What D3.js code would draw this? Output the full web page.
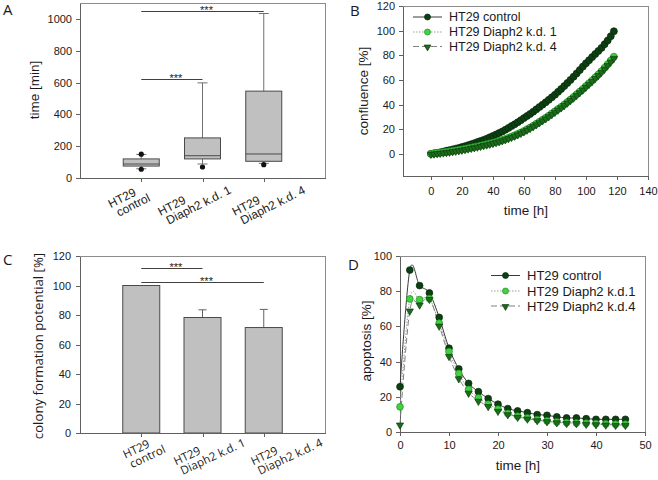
<!DOCTYPE html>
<html><head><meta charset="utf-8">
<script src="https://cdn.jsdelivr.net/npm/d3@7"></script>
<style>body{margin:0;background:#fff} svg{display:block}</style>
</head><body>
<svg id="c" width="658" height="480"></svg>
<script>
// ---------------- DATA ----------------
const catLabels = [["HT29","control"],["HT29","Diaph2 k.d. 1"],["HT29","Diaph2 k.d. 4"]];

// Panel A: box plots (time [min])
const boxQ1 = [75, 120, 105];
const boxMedian = [88, 140, 151];
const boxQ3 = [120, 252, 546];
const whiskerLow = [58, 88, 92];
const whiskerHigh = [148, 598, 1034];
const boxOutliers = [[150, 55], [69], [84]];
const ticksA = [0, 200, 400, 600, 800, 1000];
const sigA = [{from:0, to:2, y:1047}, {from:0, to:1, y:620}];

// Panel B: confluence [%] over time [h]
const growthTime = [0,2,4,6,8,10,12,14,16,18,20,22,24,26,28,30,32,34,36,38,40,42,44,46,48,50,52,54,56,58,
  60,62,64,66,68,70,72,74,76,78,80,82,84,86,88,90,92,94,96,98,100,102,104,106,108,110,112,114,116,118];
const growthControl = [0,0.4,0.8,1.2,1.8,2.5,3.0,3.6,4.2,4.8,5.5,6.2,7.0,7.8,8.6,9.5,10.4,11.3,12.3,13.4,
  14.5,15.7,16.9,18.1,19.5,21.0,22.5,24.0,25.6,27.3,29.0,30.7,32.4,34.2,36.1,38.0,39.9,41.8,43.8,45.9,
  48.0,50.3,52.6,55.0,57.5,60.0,62.6,65.3,68.0,70.8,73.5,76.0,78.5,81.0,83.5,86.0,89.0,92.0,95.5,99.5];
const growthKd1 = [0,0.3,0.6,0.9,1.2,1.5,1.9,2.3,2.7,3.1,3.5,4.0,4.5,5.0,5.5,6.0,6.6,7.2,7.8,8.4,
  9.0,9.7,10.4,11.2,12.0,13.0,14.0,15.0,16.1,17.3,18.5,19.9,21.3,22.8,24.4,26.0,27.6,29.2,30.9,32.7,
  34.5,36.3,38.1,40.0,42.0,44.0,46.1,48.3,50.5,52.7,55.0,57.3,59.6,62.0,64.4,67.0,69.8,72.7,75.7,78.8];
const growthKd4 = [0,0.2,0.5,0.8,1.1,1.4,1.7,2.1,2.5,2.9,3.3,3.8,4.3,4.8,5.3,5.8,6.4,7.0,7.6,8.2,
  8.8,9.5,10.2,11.0,11.8,12.7,13.7,14.7,15.8,17.0,18.2,19.6,21.0,22.5,24.0,25.6,27.2,28.8,30.5,32.3,
  34.1,35.9,37.7,39.6,41.6,43.6,45.7,47.8,50.0,52.2,54.5,56.8,59.1,61.5,63.9,66.5,69.2,72.0,74.9,77.8];
const ticksBx = [0, 20, 40, 60, 80, 100, 120, 140];
const ticksBy = [0, 20, 40, 60, 80, 100, 120];
const namesB = ["HT29 control", "HT29 Diaph2 k.d. 1", "HT29 Diaph2 k.d. 4"];

// Panel C: colony formation potential [%]
const colonyValues = [100, 78.3, 71.5];
const colonyErrors = [0, 5.2, 12.3];
const ticksC = [0, 20, 40, 60, 80, 100, 120];
const sigC = [{from:0, to:1, y:112}, {from:0, to:2, y:102.2}];

// Panel D: apoptosis [%] over time [h]
const apoTime = [0,2,4,6,8,10,12,14,16,18,20,22,24,26,28,30,32,34,36,38,40,42,44,46];
const apoControl = [25.7,92,83.2,79,65.1,47.6,35.8,27.6,22.9,19,15.8,13.3,12,11,9.9,9.5,8.6,8,8,7.6,7.2,7.2,7.2,7.2];
const apoKd1 = [14.3,75.6,75.2,75.8,61.9,45.7,33.3,24.2,19.4,15.8,13,10.5,9,8,7,6.3,5.7,5.3,5.1,5,4.8,4.6,4.4,4.4];
const apoKd4 = [4.2,69,72.4,75.6,60.4,43.2,30.5,22.3,17.7,14.7,12,10.1,8.6,7.6,6.7,6.1,5.5,5.1,5,4.6,4.4,4.2,4,4];
const ticksDx = [0, 10, 20, 30, 40, 50];
const ticksDy = [0, 20, 40, 60, 80, 100];
const namesD = ["HT29 control", "HT29 Diaph2 k.d.1", "HT29 Diaph2 k.d.4"];

// ---------------- STYLE ----------------
const FONT = "'Liberation Sans', Arial, sans-serif";
const FONT2 = "'Open Sans', 'Liberation Sans', sans-serif";
const TXT = "#1a1a1a";
const FRAME = "#8c8c8c";
const AXIS = "#606060";
const fmt = d3.format("d");
const seriesStyle = [
  {fill:"#0e3f12", stroke:"#062a08", line:"#3a3a3a", dash:null, shape:"circle"},
  {fill:"#3fd43f", stroke:"#1e8c1e", line:"#9a9a9a", dash:"1.5,1.5", shape:"circle"},
  {fill:"#1d6b1d", stroke:"#0e3e0e", line:"#808080", dash:"6,3", shape:"tri"}
];

const svg = d3.select("#c");

function frame(x0, y0, x1, y1) {
  svg.append("rect").attr("x", x0).attr("y", y0).attr("width", x1 - x0).attr("height", y1 - y0)
    .attr("fill", "none").attr("stroke", FRAME).attr("stroke-width", 1).attr("shape-rendering", "crispEdges");
}
function styleAxis(g, size) {
  g.attr("font-family", FONT);
  g.select(".domain").attr("stroke", AXIS);
  g.selectAll(".tick line").attr("stroke", AXIS);
  g.selectAll(".tick text").attr("font-family", FONT).attr("font-size", size || 11).attr("fill", TXT);
  g.attr("shape-rendering", "crispEdges");
}
function yTitle(x, y, text, font, size) {
  svg.append("text").attr("transform", `translate(${x},${y}) rotate(-90)`).attr("text-anchor", "middle")
    .attr("font-family", font).attr("font-size", size).attr("fill", TXT).text(text);
}
function xTitle(x, y, text) {
  svg.append("text").attr("x", x).attr("y", y).attr("text-anchor", "middle")
    .attr("font-family", FONT).attr("font-size", 13.5).attr("fill", TXT).text(text);
}
function panelLetter(x, y, t) {
  svg.append("text").attr("x", x).attr("y", y).attr("font-family", FONT2).attr("font-size", 15)
    .attr("fill", TXT).text(t);
}
function catLabel(cx, cy, angle, lines, font, size, lh, dx2) {
  const grp = svg.append("g").attr("transform", `translate(${cx},${cy}) rotate(${angle})`);
  const t = grp.append("text").attr("font-family", font).attr("font-size", size).attr("fill", TXT);
  const t1 = t.append("tspan").attr("x", 0).attr("y", -2).text(lines[0]);
  const t2 = t.append("tspan").attr("x", dx2).attr("y", lh - 2).text(lines[1]);
  const w = Math.max(t1.node().getComputedTextLength(), t2.node().getComputedTextLength() + dx2);
  t.attr("transform", `translate(${-w / 2},0)`);
}
function sigBar(xs, ys, s) {
  const x1 = xs(s.from + 1), x2 = xs(s.to + 1), yy = Math.round(ys(s.y)) + 0.5;
  svg.append("line").attr("x1", x1).attr("x2", x2).attr("y1", yy).attr("y2", yy)
    .attr("stroke", "#404040").attr("stroke-width", 1);
  svg.append("text").attr("x", (x1 + x2) / 2 + 4).attr("y", yy + 2).attr("text-anchor", "middle")
    .attr("font-family", FONT).attr("font-size", 11).attr("fill", TXT).text("***");
}
const triPath = d3.symbol().type(d3.symbolTriangle);
function marker(g, st, x, y, size) {
  if (st.shape === "circle") {
    g.append("circle").attr("cx", x).attr("cy", y).attr("r", size)
      .attr("fill", st.fill).attr("stroke", st.stroke).attr("stroke-width", 0.7);
  } else {
    g.append("path").attr("d", triPath.size(size * size * 2.2)())
      .attr("transform", `translate(${x},${y + 0.5}) rotate(180)`)
      .attr("fill", st.fill).attr("stroke", st.stroke).attr("stroke-width", 0.7);
  }
}
function legend(x0, rows, names, fontSize, lineLen) {
  names.forEach((n, i) => {
    const st = seriesStyle[i], y = rows[i];
    svg.append("line").attr("x1", x0).attr("x2", x0 + lineLen).attr("y1", y).attr("y2", y)
      .attr("stroke", st.line).attr("stroke-width", 1).attr("stroke-dasharray", st.dash);
    marker(svg, st, x0 + lineLen / 2, y, 3);
    svg.append("text").attr("x", x0 + lineLen + 7).attr("y", y).attr("dy", "0.35em")
      .attr("font-family", FONT).attr("font-size", fontSize).attr("fill", TXT).text(n);
  });
}

// ---------------- PANEL A ----------------
{
  const x = d3.scaleLinear().domain([0, 4]).range([80, 325]);
  const y = d3.scaleLinear().domain([0, 1100]).range([178, 3]);
  frame(80, 3, 325, 178);
  styleAxis(svg.append("g").attr("transform", "translate(80,0)")
    .call(d3.axisLeft(y).tickValues(ticksA).tickFormat(fmt).tickSize(4).tickPadding(4).tickSizeOuter(0)));
  styleAxis(svg.append("g").attr("transform", "translate(0,178)")
    .call(d3.axisBottom(x).tickValues([1, 2, 3]).tickFormat("").tickSize(4).tickSizeOuter(0)));
  const bw = 36, cap = 10;
  boxQ1.forEach((q1, i) => {
    const cx = x(i + 1);
    const g = svg.append("g");
    g.append("line").attr("x1", cx).attr("x2", cx).attr("y1", y(whiskerHigh[i])).attr("y2", y(boxQ3[i])).attr("stroke", "#707070");
    g.append("line").attr("x1", cx).attr("x2", cx).attr("y1", y(boxQ1[i])).attr("y2", y(whiskerLow[i])).attr("stroke", "#707070");
    g.append("line").attr("x1", cx - cap / 2).attr("x2", cx + cap / 2).attr("y1", y(whiskerHigh[i])).attr("y2", y(whiskerHigh[i])).attr("stroke", "#707070");
    g.append("line").attr("x1", cx - cap / 2).attr("x2", cx + cap / 2).attr("y1", y(whiskerLow[i])).attr("y2", y(whiskerLow[i])).attr("stroke", "#707070");
    g.append("rect").attr("x", cx - bw / 2).attr("y", y(boxQ3[i])).attr("width", bw).attr("height", y(boxQ1[i]) - y(boxQ3[i]))
      .attr("fill", "#c0c0c0").attr("stroke", "#4a4a4a");
    g.append("line").attr("x1", cx - bw / 2).attr("x2", cx + bw / 2).attr("y1", y(boxMedian[i])).attr("y2", y(boxMedian[i])).attr("stroke", "#4a4a4a");
    boxOutliers[i].forEach(v => g.append("circle").attr("cx", cx).attr("cy", y(v)).attr("r", 2.6).attr("fill", "#111"));
  });
  sigA.forEach(s => sigBar(x, y, s));
  yTitle(39, 90, "time [min]", FONT, 13.5);
  const offs = [-12, -8, 5];
  catLabels.forEach((l, i) => catLabel(x(i + 1) + offs[i], 201, -27, l, FONT, 12, 11.5, 3.5));
  panelLetter(3, 15, "A");
}

// ---------------- PANEL B ----------------
{
  const x = d3.scaleLinear().domain([-18, 140]).range([403, 648]);
  const y = d3.scaleLinear().domain([-18, 120]).range([176, 6]);
  frame(403, 6, 648, 176);
  styleAxis(svg.append("g").attr("transform", "translate(403,0)")
    .call(d3.axisLeft(y).tickValues(ticksBy).tickFormat(fmt).tickSize(4).tickPadding(4).tickSizeOuter(0)));
  styleAxis(svg.append("g").attr("transform", "translate(0,176)")
    .call(d3.axisBottom(x).tickValues(ticksBx).tickFormat(fmt).tickSize(4).tickPadding(7).tickSizeOuter(0)));
  const series = [growthControl, growthKd1, growthKd4];
  const line = d3.line().x((d, i) => x(growthTime[i])).y(d => y(d));
  series.forEach((s, k) => {
    const st = seriesStyle[k];
    svg.append("path").attr("d", line(s)).attr("fill", "none").attr("stroke", st.line).attr("stroke-dasharray", st.dash);
  });
  series.forEach((s, k) => {
    const g = svg.append("g");
    s.forEach((v, i) => marker(g, seriesStyle[k], x(growthTime[i]), y(v), k === 2 ? 3.2 : 3.5));
  });
  legend(413, [17, 32, 46.5], namesB, 12.5, 29);
  yTitle(368, 91, "confluence [%]", FONT, 13.5);
  xTitle(526, 215, "time [h]");
  panelLetter(350, 16, "B");
}

// ---------------- PANEL C ----------------
{
  const x = d3.scaleLinear().domain([0, 4]).range([80, 325]);
  const y = d3.scaleLinear().domain([0, 120]).range([433, 256]);
  frame(80, 256, 325, 433);
  const bw = 37, cap = 8;
  colonyValues.forEach((v, i) => {
    const cx = x(i + 1);
    if (colonyErrors[i] > 0) {
      svg.append("line").attr("x1", cx).attr("x2", cx).attr("y1", y(v)).attr("y2", y(v + colonyErrors[i])).attr("stroke", "#606060");
      svg.append("line").attr("x1", cx - cap / 2).attr("x2", cx + cap / 2).attr("y1", y(v + colonyErrors[i])).attr("y2", y(v + colonyErrors[i])).attr("stroke", "#606060");
    }
    svg.append("rect").attr("x", cx - bw / 2).attr("y", y(v)).attr("width", bw).attr("height", y(0) - y(v))
      .attr("fill", "#c0c0c0").attr("stroke", "#4a4a4a");
  });
  styleAxis(svg.append("g").attr("transform", "translate(80,0)")
    .call(d3.axisLeft(y).tickValues(ticksC).tickFormat(fmt).tickSize(4).tickPadding(5).tickSizeOuter(0)));
  styleAxis(svg.append("g").attr("transform", "translate(0,433)")
    .call(d3.axisBottom(x).tickValues([1, 2, 3]).tickFormat("").tickSize(4).tickSizeOuter(0)));
  sigC.forEach(s => sigBar(x, y, s));
  yTitle(43, 346, "colony formation potential [%]", FONT2, 13.2);
  const offs = [3, 7, 23];
  catLabels.forEach((l, i) => catLabel(x(i + 1) + offs[i], 452, -25, l, FONT2, 11.5, 11.5, 2));
  panelLetter(3, 265, "C");
}

// ---------------- PANEL D ----------------
{
  const x = d3.scaleLinear().domain([0, 50]).range([400, 645]);
  const y = d3.scaleLinear().domain([0, 100]).range([432, 256]);
  frame(400, 256, 645, 432);
  styleAxis(svg.append("g").attr("transform", "translate(400,0)")
    .call(d3.axisLeft(y).tickValues(ticksDy).tickFormat(fmt).tickSize(4).tickPadding(4).tickSizeOuter(0)));
  styleAxis(svg.append("g").attr("transform", "translate(0,432)")
    .call(d3.axisBottom(x).tickValues(ticksDx).tickFormat(fmt).tickSize(4).tickPadding(5).tickSizeOuter(0)));
  const series = [apoControl, apoKd1, apoKd4];
  const line = d3.line().x((d, i) => x(apoTime[i])).y(d => y(d)).curve(d3.curveCardinal.tension(0));
  series.forEach((s, k) => {
    const st = seriesStyle[k];
    svg.append("path").attr("d", line(s)).attr("fill", "none").attr("stroke", st.line).attr("stroke-width", 1)
      .attr("stroke-dasharray", st.dash);
  });
  series.forEach((s, k) => {
    const g = svg.append("g");
    s.forEach((v, i) => marker(g, seriesStyle[k], x(apoTime[i]), y(v), k === 2 ? 3.2 : 3.4));
  });
  legend(491, [275.5, 291, 306], namesD, 13, 29);
  yTitle(371, 341, "apoptosis [%]", FONT, 13.5);
  xTitle(518, 470, "time [h]");
  panelLetter(348, 270, "D");
}
</script>
</body></html>
